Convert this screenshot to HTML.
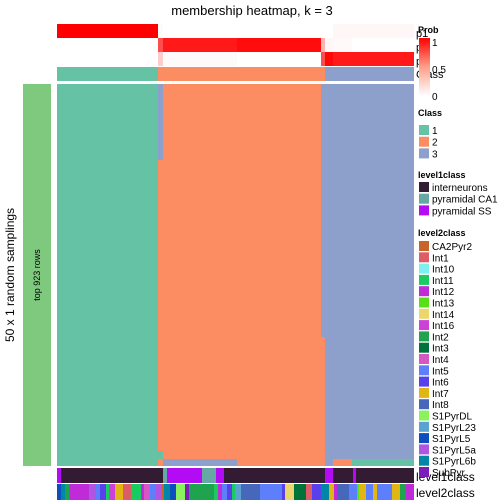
<!DOCTYPE html>
<html><head><meta charset="utf-8"><style>
body{margin:0;background:#fff}
svg{display:block;font-family:"Liberation Sans",sans-serif}
</style></head><body>
<svg id="s" width="504" height="504" viewBox="0 0 504 504">
<text x="252" y="15" text-anchor="middle" font-size="13">membership heatmap, k = 3</text>
<text transform="translate(14,275) rotate(-90)" text-anchor="middle" font-size="12">50 x 1 random samplings</text>
<rect x="23" y="84" width="28" height="382" fill="#7fc97f"/>
<text transform="translate(40,275) rotate(-90)" text-anchor="middle" font-size="9">top 923 rows</text>
<g id="g"></g>
<defs><linearGradient id="pg" x1="0" y1="1" x2="0" y2="0"><stop offset="0" stop-color="#fff"/><stop offset="0.5" stop-color="#ff9f8a"/><stop offset="1" stop-color="#f00"/></linearGradient></defs>
<text x="418" y="33" font-size="9" font-weight="bold">Prob</text>
<text x="416" y="37" font-size="11">p1</text>
<text x="416" y="51" font-size="11">p2</text>
<text x="416" y="65" font-size="11">p3</text>
<text x="416" y="78" font-size="11">Class</text>
<rect x="419" y="38" width="11" height="58" fill="url(#pg)"/>
<text x="432" y="46" font-size="10">1</text>
<text x="432" y="73" font-size="10">0.5</text>
<text x="432" y="100" font-size="10">0</text>
<text x="418" y="116" font-size="9" font-weight="bold">Class</text>
<text x="418" y="178" font-size="9" font-weight="bold">level1class</text>
<text x="418" y="236" font-size="9" font-weight="bold">level2class</text>
<text x="416" y="481" font-size="12">level1class</text>
<text x="416" y="497" font-size="12">level2class</text>
<g id="lg"></g>
</svg>
<script>
const NS="http://www.w3.org/2000/svg";
const g=document.getElementById('g'),lg=document.getElementById('lg');
function R(p,x,y,w,h,f,n){const r=document.createElementNS(NS,'rect');r.setAttribute('x',x);r.setAttribute('y',y);r.setAttribute('width',w);r.setAttribute('height',h);r.setAttribute('fill',f);


p.appendChild(r);}
function T(x,y,t,n){const e=document.createElementNS(NS,'text');e.setAttribute('x',x);e.setAttribute('y',y);e.setAttribute('font-size','10');e.textContent=t;


lg.appendChild(e);}
const classColors=["#66c2a5","#fc8d62","#8da0cb"];
// column segments (x start, x end) and membership
const segX=[57,158,163,237,321,325,333,352,414];
const p1=[1,0.02,0,0,0,0,0.03,0.03];
const p2=[0,0.7,0.9,0.95,0.3,0.03,0.02,0];
const p3=[0,0.2,0.02,0,0.7,0.97,0.9,0.9];
const topClass=[1,2,2,2,2,3,3,3];
function red(v){const c=Math.round(255*(1-v));return `rgb(255,${c},${c})`;}
for(let i=0;i<topClass.length;i++){const x=segX[i],w=segX[i+1]-x;
R(g,x,24,w,14,red(p1[i]),'p1-cell');R(g,x,38,w,14,red(p2[i]),'p2-cell');R(g,x,52,w,14,red(p3[i]),'p3-cell');
R(g,x,67,w,14,classColors[topClass[i]-1],'class-cell');}
// main heatmap blocks: [x0,x1,y0,y1,class]
const blocks=[[57,158,84,466,1],[158,163,84,160,3],[158,163,160,451,2],[158,163,451,459,1],[158,163,459,466,2],[163,325,84,466,2],[321,414,84,337,3],[325,414,337,459,3],
[163,237,459,466,3],[325,333,459,466,3],[333,352,459,466,2],[352,414,459,466,1]];
blocks.forEach(b=>R(g,b[0],b[2],b[1]-b[0],b[3]-b[2],classColors[b[4]-1],'heatmap-block-class'+b[4]));
const l1Names=["interneurons","pyramidal CA1","pyramidal SS"];
const l1Colors=["#321b33","#66a8a4","#b30cf5"];
const l1X=[57,61,163,167,202,216,224,325,333,353,356,414];
const l1=[3,1,2,3,2,3,1,3,1,3,1];
for(let i=0;i<l1.length;i++)R(g,l1X[i],468,l1X[i+1]-l1X[i],15,l1Colors[l1[i]-1],'level1class-cell');
const l2Names=["CA2Pyr2","Int1","Int10","Int11","Int12","Int13","Int14","Int16","Int2","Int3","Int4","Int5","Int6","Int7","Int8","S1PyrDL","S1PyrL23","S1PyrL5","S1PyrL5a","S1PyrL6b","SubPyr"];
const l2Colors=["#c8642a","#de5c66","#7ff0f0","#18cc60","#c02bd8","#57e017","#ecd76c","#cc42d8","#1fa34e","#00733a","#d657c4","#5d7ffb","#5840ec","#e0b514","#4767bb","#8af25d","#5aa2d2","#0d4dbd","#b054e2","#0187a6","#7a1dba"];
const l2=[17,11,8,18,4,4,11,12,3,7,14,14,7,1,1,7,8,12,2,12,19,19,15,18,15,15,20,20,18,8,6,7,4,12,14,14,12,11,6,9,9,8,1,13,12,19,13,11,14,14,8,14,7,6,13,13,14,19,9];
const l2X=[57,61,65,69,76,89,96,100,106,109,115,123,126,131,141,144,150,153,156,162,164,170,176,183,185,189,214,218,222,227,232,235,241,250,255,260,275,282,285,294,299,306,312,321,329,334,337,340,344,349,354,357,359,366,373,377,392,400,406,414];
const l2c=[17,19,8,4,4,18,11,12,3,7,13,1,1,3,4,10,11,11,18,0,19,17,15,15,20,8,3,4,11,12,3,16,14,14,14,11,11,12,6,9,9,1,12,19,13,4,14,14,14,11,11,5,13,11,13,11,13,8,4];
for(let i=0;i<l2X.length-1;i++)R(g,l2X[i],484,l2X[i+1]-l2X[i],16,l2Colors[l2c[i]],'level2class-cell');
// legends
["1","2","3"].forEach((t,i)=>{R(lg,419,125+i*11.7,10,10,classColors[i],'class-legend-swatch');T(432,134+i*11.7,t,'class-legend-label');});
l1Names.forEach((t,i)=>{R(lg,419,182+i*11.7,10,10,l1Colors[i],'level1class-legend-swatch');T(432,191+i*11.7,t,'level1class-legend-label');});
l2Names.forEach((t,i)=>{R(lg,419,241+i*11.3,10,10,l2Colors[i],'level2class-legend-swatch');T(432,250+i*11.3,t,'level2class-legend-label');});
</script>
</body></html>
